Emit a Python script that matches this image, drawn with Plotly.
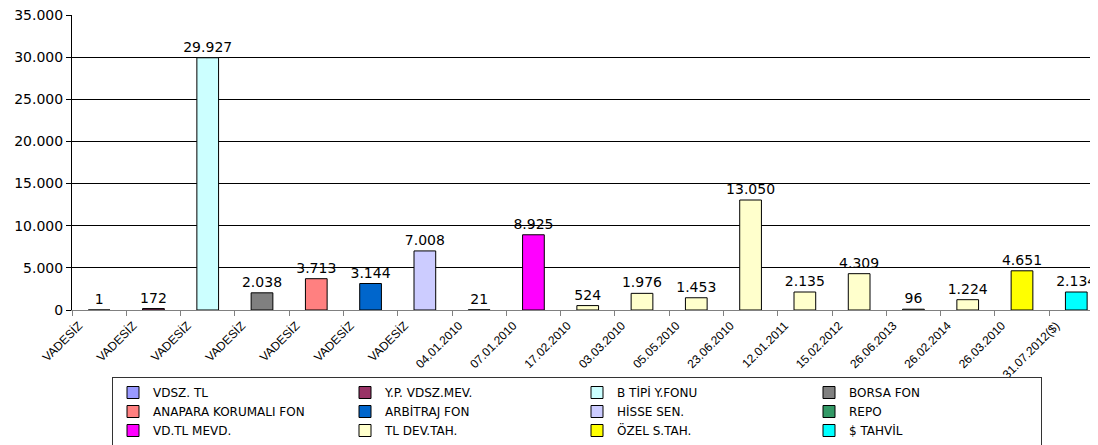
import plotly.graph_objects as go

categories = ["VADESİZ", "VADESİZ", "VADESİZ", "VADESİZ", "VADESİZ", "VADESİZ", "VADESİZ",
              "04.01.2010", "07.01.2010", "17.02.2010", "03.03.2010", "05.05.2010", "23.06.2010",
              "12.01.2011", "15.02.2012", "26.06.2013", "26.02.2014", "26.03.2010", "31.07.2012($)"]
values = [1, 172, 29927, 2038, 3713, 3144, 7008, 21, 8925, 524, 1976, 1453, 13050,
          2135, 4309, 96, 1224, 4651, 2134]
series_names = ["VDSZ. TL", "Y.P. VDSZ.MEV.", "B TİPİ Y.FONU", "BORSA FON",
                "ANAPARA KORUMALI FON", "ARBİTRAJ FON", "HİSSE SEN.", "REPO",
                "VD.TL MEVD.", "TL DEV.TAH.", "ÖZEL S.TAH.", "$ TAHVİL"]
series_colors = ["#9999FF", "#993366", "#CCFFFF", "#808080", "#FF8080", "#0066CC",
                 "#CCCCFF", "#339966", "#FF00FF", "#FFFFCC", "#FFFF00", "#00FFFF"]
# series index for each category
category_series = [0, 1, 2, 3, 4, 5, 6, 7, 8, 9, 9, 9, 9, 9, 9, 9, 9, 10, 11]
y_ticks = [0, 5000, 10000, 15000, 20000, 25000, 30000, 35000]

FONT = "DejaVu Sans"
XFONT = "Liberation Sans"
W, H = 1090, 437  # page body has an 8px margin inside the 1098x445 window
xpos = list(range(len(categories)))

fig = go.Figure()
for s, name in enumerate(series_names):
    ys = [v if category_series[i] == s else None for i, v in enumerate(values)]
    fig.add_trace(go.Bar(
        x=xpos, y=ys, name=name, width=0.4,
        marker=dict(color=series_colors[s], line=dict(color="black", width=1)),
        texttemplate="%{y:,}", textposition="outside", constraintext="none",
        textfont=dict(family=FONT, size=14, color="black"),
        cliponaxis=False,
    ))

fig.update_layout(
    width=W, height=H,
    barmode="overlay",
    separators=",.",
    paper_bgcolor="white", plot_bgcolor="white",
    margin=dict(l=64, r=0, t=7, b=135),
    font=dict(family=FONT, size=13, color="black"),
    showlegend=True,
    legend=dict(
        orientation="h", xref="container", yref="container",
        x=104 / W, xanchor="left", y=1 - 369 / H, yanchor="top",
        entrywidth=187, entrywidthmode="pixels",
        bordercolor="#333333", borderwidth=1, bgcolor="white",
        font=dict(family=FONT, size=12, color="black"),
        traceorder="normal", itemwidth=30,
    ),
)
fig.update_xaxes(
    range=[-0.5, len(categories) - 0.6], automargin=False,
    tickmode="array", tickvals=[i - 0.5 for i in xpos], ticktext=categories,
    tickangle=-45, ticks="outside", ticklen=5, tickcolor="#808080",
    ticklabelshift=7, ticklabelstandoff=-2,
    showline=True, linecolor="#808080", linewidth=1,
    showgrid=False, zeroline=False,
    tickfont=dict(family=XFONT, size=12, color="black"),
)
fig.update_yaxes(
    range=[0, 35000], tickmode="array", tickvals=y_ticks, tickformat=",d",
    automargin=False, ticklabeloverflow="allow",
    ticks="outside", ticklen=5, tickcolor="black",
    showline=True, linecolor="black", linewidth=1,
    showgrid=False, zeroline=False,
    minor=dict(tickmode="array", tickvals=y_ticks[1:-1], showgrid=True,
               gridcolor="black", gridwidth=1, ticks=""),
    tickfont=dict(family=FONT, size=14, color="black"),
)

fig.write_html("out.html")
